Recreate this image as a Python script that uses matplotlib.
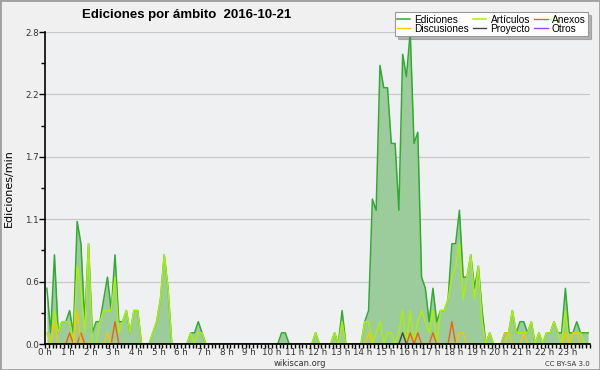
import matplotlib
matplotlib.use("Agg")
import matplotlib.pyplot as plt
import numpy as np
from matplotlib.patches import Rectangle

# 10-minute bins, values in edits/min, listed per hour (6 bins each)
ediciones = [
    0.5, 0.1, 0.8, 0.1, 0.2, 0.2,   # 0h
    0.3, 0.1, 1.1, 0.9, 0.2, 0.9,   # 1h
    0.1, 0.2, 0.2, 0.4, 0.6, 0.3,   # 2h
    0.8, 0.2, 0.2, 0.3, 0.1, 0.3,   # 3h
    0.3, 0.0, 0.0, 0.0, 0.1, 0.2,   # 4h
    0.4, 0.8, 0.5, 0.0, 0.0, 0.0,   # 5h
    0.0, 0.0, 0.1, 0.1, 0.2, 0.1,   # 6h
    0.0, 0.0, 0.0, 0.0, 0.0, 0.0,   # 7h
    0.0, 0.0, 0.0, 0.0, 0.0, 0.0,   # 8h
    0.0, 0.0, 0.0, 0.0, 0.0, 0.0,   # 9h
    0.0, 0.0, 0.1, 0.1, 0.0, 0.0,   # 10h
    0.0, 0.0, 0.0, 0.0, 0.0, 0.1,   # 11h
    0.0, 0.0, 0.0, 0.0, 0.1, 0.0,   # 12h
    0.3, 0.0, 0.0, 0.0, 0.0, 0.0,   # 13h
    0.2, 0.3, 1.3, 1.2, 2.5, 2.3,   # 14h
    2.3, 1.8, 1.8, 1.2, 2.6, 2.4,   # 15h
    2.8, 1.8, 1.9, 0.6, 0.5, 0.2,   # 16h
    0.5, 0.2, 0.3, 0.3, 0.4, 0.9,   # 17h
    0.9, 1.2, 0.6, 0.6, 0.8, 0.5,   # 18h
    0.7, 0.3, 0.0, 0.1, 0.0, 0.0,   # 19h
    0.0, 0.1, 0.1, 0.3, 0.1, 0.2,   # 20h
    0.2, 0.1, 0.2, 0.0, 0.1, 0.0,   # 21h
    0.1, 0.1, 0.2, 0.1, 0.1, 0.5,   # 22h
    0.1, 0.1, 0.2, 0.1, 0.1, 0.1,   # 23h
]

articulos = [
    0.1, 0.0, 0.3, 0.1, 0.2, 0.2,
    0.2, 0.0, 0.7, 0.5, 0.1, 0.9,
    0.0, 0.0, 0.2, 0.3, 0.3, 0.3,
    0.6, 0.1, 0.2, 0.3, 0.1, 0.3,
    0.3, 0.0, 0.0, 0.0, 0.1, 0.2,
    0.4, 0.8, 0.5, 0.0, 0.0, 0.0,
    0.0, 0.0, 0.1, 0.0, 0.1, 0.1,
    0.0, 0.0, 0.0, 0.0, 0.0, 0.0,
    0.0, 0.0, 0.0, 0.0, 0.0, 0.0,
    0.0, 0.0, 0.0, 0.0, 0.0, 0.0,
    0.0, 0.0, 0.0, 0.0, 0.0, 0.0,
    0.0, 0.0, 0.0, 0.0, 0.0, 0.1,
    0.0, 0.0, 0.0, 0.0, 0.1, 0.0,
    0.2, 0.0, 0.0, 0.0, 0.0, 0.0,
    0.2, 0.2, 0.0, 0.1, 0.2, 0.0,
    0.1, 0.1, 0.0, 0.1, 0.3, 0.0,
    0.3, 0.0, 0.2, 0.3, 0.2, 0.1,
    0.3, 0.0, 0.3, 0.3, 0.4, 0.6,
    0.7, 0.9, 0.4, 0.6, 0.8, 0.4,
    0.7, 0.2, 0.0, 0.1, 0.0, 0.0,
    0.0, 0.0, 0.1, 0.3, 0.1, 0.1,
    0.1, 0.1, 0.2, 0.0, 0.1, 0.0,
    0.1, 0.1, 0.2, 0.1, 0.0, 0.3,
    0.0, 0.1, 0.1, 0.1, 0.0, 0.0,
]

# sparse series: {bin index: value}
discusiones = {2: 0.2, 8: 0.3, 16: 0.1, 85: 0.1, 109: 0.1, 110: 0.1,
               121: 0.1, 122: 0.1, 126: 0.1, 137: 0.1, 139: 0.1, 140: 0.1}
anexos = {6: 0.1, 9: 0.1, 18: 0.2, 96: 0.1, 98: 0.1, 102: 0.1, 107: 0.2}
proyecto = {94: 0.1}
otros = {}

title = "Ediciones por ámbito  2016-10-21"
hour_labels = [f"{h} h" for h in range(24)]
ytick_vals = [0.0, 0.56, 1.12, 1.68, 2.24, 2.8]
ytick_labels = ["0.0", "0.6", "1.1", "1.7", "2.2", "2.8"]

n = len(ediciones)
x = (np.arange(n) + 0.5) / 6.0


def dense(d):
    a = np.zeros(n)
    for k, v in d.items():
        a[k] = v
    return a


plt.rcParams['font.family'] = ['DejaVu Sans']
fig = plt.figure(figsize=(6.0, 3.7), dpi=100)
fig.patch.set_facecolor('#f0f0f0')
ax = fig.add_axes([45/600, 1-344/370, 545/600, 312/370])
ax.set_facecolor('#eff0f2')

c_ed, c_fill = '#33aa33', '#9ccc9c'
c_art, c_dis, c_anx, c_pro, c_otr = '#aaee11', '#f5c800', '#f06010', '#444444', '#9944ee'

ax.fill_between(x, 0, ediciones, color=c_fill, lw=0, zorder=1)
ax.plot(x, ediciones, color=c_ed, lw=1.1, zorder=3, label='Ediciones')
ax.plot(x, articulos, color=c_art, lw=1.1, zorder=4, label='Artículos')
ax.plot(x, dense(anexos), color=c_anx, lw=1.0, zorder=5, label='Anexos')
ax.plot(x, dense(discusiones), color=c_dis, lw=1.0, zorder=5, label='Discusiones')
ax.plot(x, dense(proyecto), color=c_pro, lw=1.0, zorder=5, label='Proyecto')
ax.plot(x, dense(otros), color=c_otr, lw=1.0, zorder=5, label='Otros')

ax.set_xlim(0, 24)
ax.set_ylim(0, 2.8)
ax.set_yticks(ytick_vals)
ax.set_yticklabels(ytick_labels)
ax.set_yticks([v + 0.28 for v in ytick_vals[:-1]], minor=True)
ax.set_xticks(np.arange(24))
ax.set_xticklabels(hour_labels)
ax.set_xticks(np.arange(0, 24.01, 1/6), minor=True)
ax.tick_params(axis='y', which='major', labelsize=6.3, colors='black',
               labelcolor='#333333', length=4, width=1, pad=0.5)
ax.tick_params(axis='x', which='major', labelsize=6.3, colors='black',
               labelcolor='#333333', length=3, width=1, pad=0)
ax.tick_params(axis='both', which='minor', length=3, width=1)
ax.yaxis.grid(True, color='#c8c8c8', lw=0.9, zorder=0)
ax.set_axisbelow(True)
for s in ['top', 'right']:
    ax.spines[s].set_visible(False)
for s in ['left', 'bottom']:
    ax.spines[s].set_color('black')
    ax.spines[s].set_linewidth(1.2)
    ax.spines[s].set_zorder(10)

ax.set_ylabel('Ediciones/min', fontsize=8, labelpad=8)

fig.text(187/600, 1-15/370, title, ha='center', va='center', fontsize=9.5,
         fontweight='bold', family=['Liberation Sans', 'DejaVu Sans'])
fig.text(300/600, 1-364/370, 'wikiscan.org', ha='center', va='center', fontsize=6, color='#333333')
fig.text(590/600, 1-364/370, 'CC BY-SA 3.0', ha='right', va='center', fontsize=5, color='#333333')

h, l = ax.get_legend_handles_labels()
order = [0, 3, 1, 4, 2, 5]
leg = fig.legend([h[i] for i in order], [l[i] for i in order], ncol=3,
                 loc='upper right', bbox_to_anchor=(588/600, 1-12/370),
                 prop={'family': ['Liberation Sans', 'DejaVu Sans'], 'size': 7.3},
                 handlelength=1.3, handletextpad=0.4,
                 columnspacing=0.4, labelspacing=-0.1, borderpad=0.25,
                 frameon=True, fancybox=False, shadow={'color': '#777777'},
                 borderaxespad=0)
leg.get_frame().set_edgecolor('#999999')
leg.get_frame().set_linewidth(0.8)

fig.patches.append(Rectangle((0, 0), 1, 1, transform=fig.transFigure, fill=False,
                             edgecolor='#a0a0a0', lw=2))

fig.savefig('out.png', dpi=100, facecolor=fig.get_facecolor())
